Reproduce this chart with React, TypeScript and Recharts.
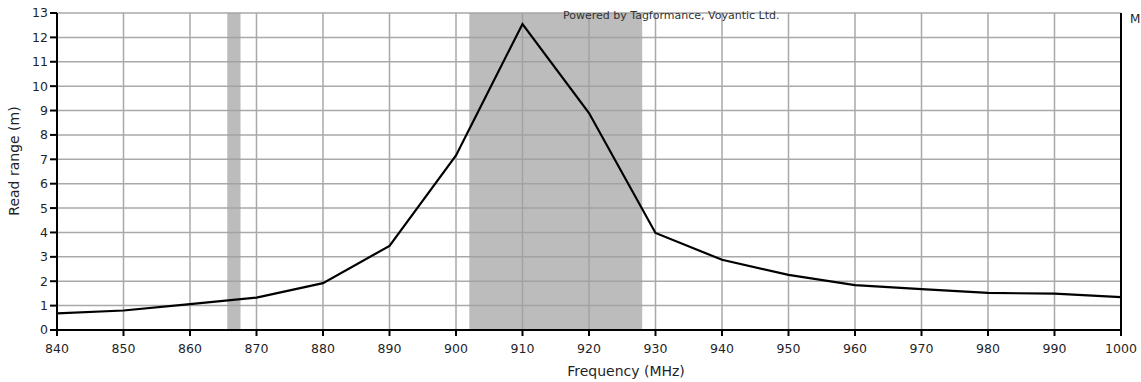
import {
  CartesianGrid,
  ComposedChart,
  Line,
  ReferenceArea,
  ReferenceLine,
  XAxis,
  YAxis,
} from 'recharts'

const frequencies = [840, 850, 860, 870, 880, 890, 900, 910, 920, 930, 940, 950, 960, 970, 980, 990, 1000]
const readRange = [0.68, 0.8, 1.06, 1.33, 1.92, 3.45, 7.16, 12.55, 8.9, 3.98, 2.88, 2.26, 1.84, 1.68, 1.52, 1.49, 1.35]
const xTicks = [840, 850, 860, 870, 880, 890, 900, 910, 920, 930, 940, 950, 960, 970, 980, 990, 1000]
const yTicks = [0, 1, 2, 3, 4, 5, 6, 7, 8, 9, 10, 11, 12, 13]
const bands = [
  { from: 865.6, to: 867.6 },
  { from: 902, to: 928 },
]

const data = frequencies.map((f, i) => ({ freq: f, range: readRange[i] }))

const font = '"DejaVu Sans", Tahoma, sans-serif'
const textColor = '#1f1f2a'

function YTitle() {
  return (
    <text
      x={14}
      y={161}
      transform="rotate(-90, 14, 161)"
      textAnchor="middle"
      dominantBaseline="central"
      fill={textColor}
      fontSize={14}
      fontFamily={font}
    >
      Read range (m)
    </text>
  )
}

export default function App() {
  return (
    <div style={{ position: 'absolute', left: 0, top: 0, width: 1141, height: 382, background: '#fff', fontFamily: font }}>
      <ComposedChart
        width={1141}
        height={382}
        data={data}
        margin={{ top: 13, right: 20, bottom: 0, left: 0 }}
      >
        <CartesianGrid stroke="#a9a9a9" strokeWidth={1.5} />
        {/* translucent so the grid still shows through the bands */}
        {bands.map((b) => (
          <ReferenceArea
            key={b.from}
            x1={b.from}
            x2={b.to}
            fill="#a0a0a0"
            fillOpacity={0.7}
            stroke="none"
          />
        ))}
        <XAxis
          dataKey="freq"
          type="number"
          domain={[840, 1000]}
          ticks={xTicks}
          interval={0}
          height={52}
          stroke="#000"
          strokeWidth={2}
          tickSize={6}
          tickMargin={8}
          tick={{ fill: textColor, fontSize: 12.5, fontFamily: font }}
          label={{ value: 'Frequency (MHz)', position: 'insideBottom', offset: 6, dx: 37, fill: textColor, fontSize: 14, fontFamily: font }}
        />
        <YAxis
          type="number"
          domain={[0, 13]}
          ticks={yTicks}
          interval={0}
          width={57}
          stroke="#000"
          strokeWidth={2}
          tickSize={7}
          tickMargin={2}
          tick={{ fill: textColor, fontSize: 12.5, fontFamily: font }}
          label={{ content: () => <YTitle /> }}
        />
        <ReferenceLine x={1000} stroke="#000" strokeWidth={2} />
        <Line
          dataKey="range"
          type="linear"
          stroke="#000"
          strokeWidth={2.2}
          dot={false}
          isAnimationActive={false}
        />
      </ComposedChart>
      <div style={{ position: 'absolute', left: 563, top: 9, fontSize: 11, color: '#333', whiteSpace: 'nowrap' }}>
        Powered by Tagformance, Voyantic Ltd.
      </div>
      <div style={{ position: 'absolute', left: 1130, top: 12, fontSize: 12, color: textColor }}>M</div>
    </div>
  )
}
